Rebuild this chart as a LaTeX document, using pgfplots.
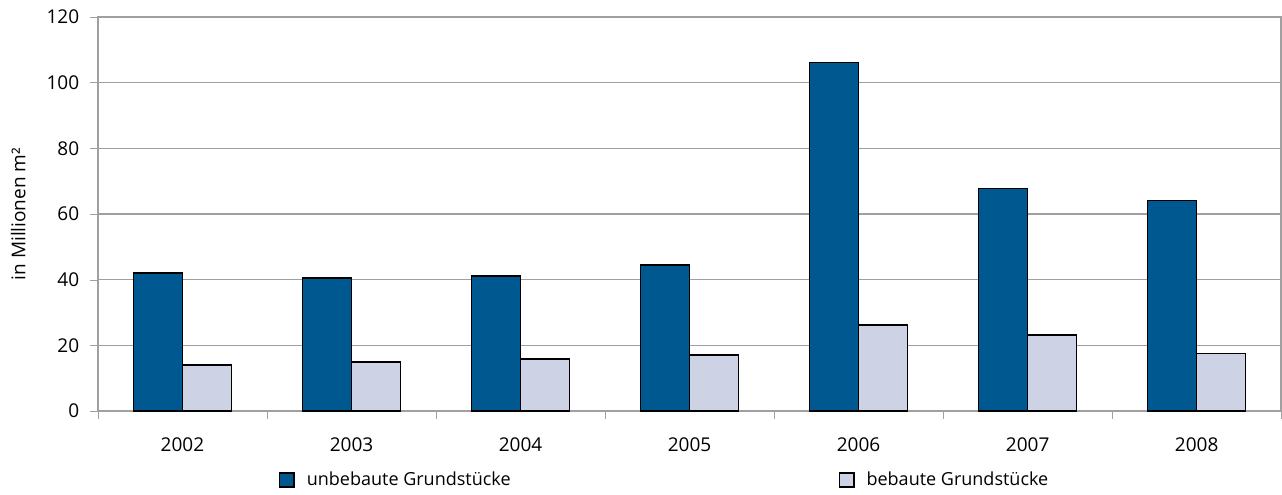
\documentclass[border=0pt]{standalone}
\usepackage{fontspec}
\setmainfont{Open Sans}
\usepackage{pgfplots}
\pgfplotsset{compat=1.18}

\definecolor{dunkelblau}{RGB}{0,88,145}
\definecolor{hellblau}{RGB}{205,211,229}
\definecolor{rastergrau}{RGB}{160,160,160}

\begin{document}
\fontsize{9.5pt}{11pt}\selectfont
\begin{tikzpicture}
\begin{axis}[
  scale only axis,
  width=591.5pt, height=197pt,
  ybar=0pt, bar width=24.5pt,
  xmin=-0.5, xmax=6.5,
  ymin=0, ymax=120,
  ytick={0,20,...,120},
  xtick={0,...,6},
  xticklabels={2002,2003,2004,2005,2006,2007,2008},
  major x tick style={draw=none},
  minor xtick={-0.5,0.5,...,6.5},
  minor x tick style={rastergrau},
  minor tick length=4pt,
  major tick length=4pt,
  tick align=outside,
  tick pos=left,
  axis line style={rastergrau, line width=0.8pt},
  y tick style={rastergrau},
  ymajorgrids,
  grid style={rastergrau, line width=0.7pt},
  xticklabel style={yshift=-6pt},
  yticklabel style={xshift=-2pt},
  /pgf/number format/assume math mode=true,
  ylabel={in Millionen m²},
  ylabel style={yshift=4pt},
  clip=false,
  legend columns=2,
  legend style={draw=none, at={(axis description cs:0.1475,-0.175)}, anchor=west,
    font=\fontsize{9pt}{11pt}\selectfont,
    /tikz/every odd column/.append style={column sep=4pt},
    /tikz/every even column/.append style={column sep=162pt}},
  legend image code/.code={\draw[#1] (0pt,-3.6pt) rectangle (7.2pt,3.6pt);},
]
\addplot[fill=dunkelblau, draw=black, line width=0.75pt] coordinates {
  (0,42.1) (1,40.5) (2,41.1) (3,44.5) (4,106.2) (5,67.8) (6,64.1)};
\addplot[fill=hellblau, draw=black, line width=0.75pt] coordinates {
  (0,14.0) (1,15.0) (2,15.8) (3,17.0) (4,26.2) (5,23.2) (6,17.5)};
\legend{unbebaute Grundstücke, bebaute Grundstücke}
\coordinate (bl) at (axis description cs:-0.0828,-0.2107);
\coordinate (tr) at (axis description cs:1.0007,1.0431);
\end{axis}
\pgfresetboundingbox
\path[use as bounding box] (bl) rectangle (tr);
\end{tikzpicture}
\end{document}
